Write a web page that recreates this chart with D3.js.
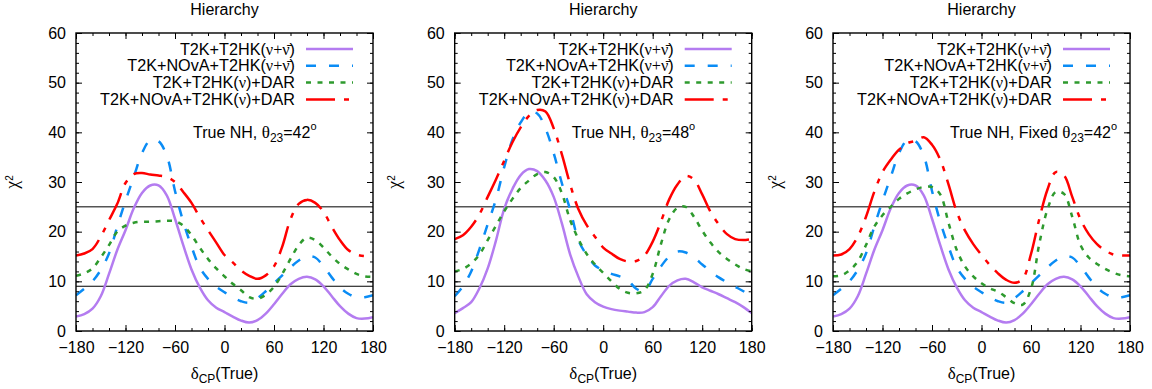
<!DOCTYPE html>
<html>
<head>
<meta charset="utf-8">
<script src="https://cdn.jsdelivr.net/npm/d3@7"></script>
<style>
  body { margin: 0; background: #fff; }
  svg { display: block; font-family: "Liberation Sans", Arial, sans-serif; }
  .greek { font-family: "Liberation Serif", "DejaVu Serif", serif; }
</style>
</head>
<body>
<div id="chart"></div>
<script>
// delta_CP (true) grid, degrees
const deltaCP = [-180, -170, -160, -150, -140, -130, -120, -110, -100, -90, -80, -70, -60, -50, -40, -30, -20, -10,
  0, 10, 20, 30, 40, 50, 60, 70, 80, 90, 100, 110, 120, 130, 140, 150, 160, 170, 180];

// True NH, theta23 = 42
const nh42T2hk = [2.9, 3.4, 4.5, 7.0, 11.5, 16.3, 20.3, 24.7, 27.8, 29.3, 29.3, 27.3, 22.6, 17.3, 12.4, 8.8, 6.2, 4.7,
  3.8, 2.9, 2.1, 1.7, 2.2, 3.5, 5.4, 7.5, 9.4, 10.5, 10.9, 10.4, 9.0, 7.0, 5.0, 3.5, 2.6, 2.5, 2.8];
const nh42Nova = [7.2, 8.5, 10.0, 12.3, 15.6, 21.0, 26.2, 31.0, 35.8, 38.4, 38.2, 35.3, 28.2, 22.0, 17.0, 12.8, 10.5, 8.9,
  7.8, 6.8, 6.0, 5.7, 6.6, 8.0, 9.6, 11.2, 12.8, 14.2, 15.0, 14.8, 13.0, 10.8, 8.8, 7.5, 6.8, 6.8, 7.2];
const nh42Dar = [11.1, 11.6, 12.6, 14.8, 17.3, 20.0, 21.2, 21.8, 22.0, 22.0, 22.1, 22.2, 22.1, 21.2, 19.3, 16.8, 14.5, 12.6,
  11.0, 9.5, 8.2, 6.8, 6.5, 7.3, 8.9, 11.5, 14.5, 17.3, 18.8, 18.3, 16.8, 15.0, 13.5, 12.4, 11.5, 11.0, 10.9];
const nh42NovaDar = [15.2, 15.6, 16.5, 19.0, 22.3, 25.6, 29.8, 31.6, 31.8, 31.5, 31.3, 31.0, 30.0, 28.0, 25.8, 22.9, 20.3, 17.8,
  15.3, 13.8, 12.2, 11.1, 10.5, 11.2, 13.0, 17.0, 22.5, 25.6, 26.4, 25.8, 24.0, 21.0, 18.3, 16.3, 15.4, 15.1, 15.2];

// True NH, theta23 = 48
const nh48T2hk = [3.6, 4.6, 5.8, 8.6, 12.6, 18.2, 24.6, 28.6, 31.4, 32.6, 32.2, 30.3, 27.0, 21.6, 15.4, 10.9, 7.4, 5.8,
  4.9, 4.4, 4.1, 3.9, 3.7, 3.8, 4.8, 7.0, 9.1, 10.2, 10.5, 9.8, 8.8, 8.1, 7.4, 6.6, 5.8, 4.8, 3.6];
const nh48Nova = [7.0, 9.0, 12.0, 16.5, 21.5, 26.5, 33.0, 38.5, 42.0, 44.0, 43.8, 40.8, 35.8, 29.7, 24.4, 18.3, 15.3, 13.2,
  12.2, 11.5, 11.0, 10.2, 8.5, 8.0, 10.5, 13.0, 15.0, 16.0, 15.8, 14.8, 13.4, 12.0, 10.8, 9.8, 8.9, 8.0, 7.0];
const nh48Dar = [12.0, 12.5, 13.6, 15.4, 18.3, 21.2, 24.1, 26.6, 28.8, 30.3, 31.6, 32.0, 31.0, 27.7, 22.3, 18.5, 15.5, 13.4,
  11.7, 10.0, 8.5, 7.7, 7.6, 8.2, 11.5, 17.5, 22.5, 24.8, 25.0, 23.0, 20.2, 17.8, 15.9, 14.5, 13.4, 12.5, 12.0];
const nh48NovaDar = [18.5, 19.3, 21.0, 23.5, 27.0, 30.5, 34.3, 38.0, 41.0, 43.3, 44.5, 44.2, 40.8, 35.5, 29.5, 24.5, 21.3, 19.0,
  16.8, 15.6, 14.5, 14.0, 14.1, 15.2, 18.0, 22.0, 26.5, 29.5, 31.2, 30.5, 27.5, 24.0, 21.5, 19.5, 18.5, 18.3, 18.5];

// True NH, fixed theta23 = 42 (beam-only curves as in the first panel)
const fixed42Dar = [11.0, 11.2, 12.2, 14.0, 17.3, 21.0, 23.3, 25.0, 26.6, 27.7, 28.5, 29.0, 29.0, 27.5, 21.8, 16.3, 13.0, 11.0,
  9.6, 8.6, 7.9, 6.8, 5.6, 5.3, 8.5, 17.5, 24.5, 28.0, 27.6, 23.0, 17.3, 14.8, 13.5, 12.5, 11.7, 11.2, 11.0];
const fixed42NovaDar = [15.2, 15.4, 16.5, 19.0, 23.0, 28.0, 32.0, 34.5, 36.5, 37.8, 38.3, 39.0, 37.5, 34.5, 29.5, 24.0, 20.2, 17.5,
  15.3, 13.3, 11.6, 10.3, 9.7, 10.5, 15.5, 22.5, 28.5, 32.0, 31.3, 27.0, 22.5, 19.5, 17.5, 16.2, 15.4, 15.2, 15.2];

const xMajorTicks = [-180, -120, -60, 0, 60, 120, 180];
const yMajorTicks = [0, 10, 20, 30, 40, 50, 60];
const refLevels = [25, 9];

const seriesStyles = [
  { color: "#b47cf0", dash: null },
  { color: "#0a8cf5", dash: "10,13" },
  { color: "#2e9a2e", dash: "5,6.5" },
  { color: "#ff0000", dash: "29,9,5,9" }
];

// legend labels, pieces flagged as greek are set in a serif face
const legendLabels = [
  [["T2K+T2HK(", 0], ["\u03bd+\u03bd\u0304", 1], [")", 0]],
  [["T2K+NOvA+T2HK(", 0], ["\u03bd+\u03bd\u0304", 1], [")", 0]],
  [["T2K+T2HK(", 0], ["\u03bd", 1], [")+DAR", 0]],
  [["T2K+NOvA+T2HK(", 0], ["\u03bd", 1], [")+DAR", 0]]
];

const panels = [
  { left: 76, yLabelX: 58, note: "True NH, ", theta: "42", series: [nh42T2hk, nh42Nova, nh42Dar, nh42NovaDar] },
  { left: 454.7, yLabelX: 55, note: "True NH, ", theta: "48", series: [nh48T2hk, nh48Nova, nh48Dar, nh48NovaDar] },
  { left: 833, yLabelX: 52, note: "True NH, Fixed ", theta: "42", series: [nh42T2hk, nh42Nova, fixed42Dar, fixed42NovaDar] }
];

const W = 1152, H = 389;
const plotTop = 33, plotBottom = 331, plotW = 297;
const fontSize = 16;

const svg = d3.select("#chart").append("svg")
  .attr("width", W)
  .attr("height", H);

const y = d3.scaleLinear().domain([0, 60]).range([plotBottom, plotTop]);

panels.forEach((p, i) => {
  const x = d3.scaleLinear().domain([-180, 180]).range([p.left, p.left + plotW]);
  const g = svg.append("g");

  g.append("clipPath").attr("id", "clip" + i)
    .append("rect")
    .attr("x", p.left).attr("y", plotTop)
    .attr("width", plotW).attr("height", plotBottom - plotTop);

  // reference lines
  g.selectAll(".ref")
    .data(refLevels)
    .enter()
    .append("line")
    .attr("x1", x(-180)).attr("x2", x(180))
    .attr("y1", d => y(d)).attr("y2", d => y(d))
    .attr("stroke", (d, k) => k === 0 ? "#555" : "#000")
    .attr("stroke-width", (d, k) => k === 0 ? 1.5 : 1.1);

  // curves
  const line = d3.line()
    .x((d, k) => x(deltaCP[k]))
    .y(d => y(d))
    .curve(d3.curveCatmullRom.alpha(0.5));

  g.append("g").attr("clip-path", `url(#clip${i})`)
    .selectAll("path")
    .data(p.series)
    .enter()
    .append("path")
    .attr("d", line)
    .attr("fill", "none")
    .attr("stroke", (d, k) => seriesStyles[k].color)
    .attr("stroke-width", 2.5)
    .attr("stroke-dasharray", (d, k) => seriesStyles[k].dash);

  // axes, gnuplot style: inward ticks on all four sides
  const xMinor = x.ticks(18);
  const yMinor = y.ticks(30);
  const addAxis = (axis, tx, ty) => {
    const a = g.append("g").attr("transform", `translate(${tx},${ty})`).call(axis);
    a.select(".domain").remove();
    a.selectAll("line").attr("stroke", "#000").attr("stroke-width", 1);
    return a;
  };
  const bottom = addAxis(d3.axisBottom(x).tickValues(xMajorTicks).tickSize(-6).tickPadding(11), 0, plotBottom);
  bottom.selectAll("text").attr("font-size", fontSize).attr("fill", "#000").attr("font-family", "Liberation Sans, Arial, sans-serif");
  addAxis(d3.axisBottom(x).tickValues(xMinor).tickSize(-3).tickFormat(""), 0, plotBottom);
  addAxis(d3.axisTop(x).tickValues(xMajorTicks).tickSize(-6).tickFormat(""), 0, plotTop);
  addAxis(d3.axisTop(x).tickValues(xMinor).tickSize(-3).tickFormat(""), 0, plotTop);

  const leftAx = addAxis(d3.axisLeft(y).tickValues(yMajorTicks).tickSize(-6).tickPadding(10), p.left, 0);
  leftAx.selectAll("text").attr("font-size", fontSize).attr("fill", "#000").attr("font-family", "Liberation Sans, Arial, sans-serif");
  addAxis(d3.axisLeft(y).tickValues(yMinor).tickSize(-3).tickFormat(""), p.left, 0);
  addAxis(d3.axisRight(y).tickValues(yMajorTicks).tickSize(-6).tickFormat(""), p.left + plotW, 0);
  addAxis(d3.axisRight(y).tickValues(yMinor).tickSize(-3).tickFormat(""), p.left + plotW, 0);

  // frame
  g.append("rect")
    .attr("x", p.left).attr("y", plotTop)
    .attr("width", plotW).attr("height", plotBottom - plotTop)
    .attr("fill", "none").attr("stroke", "#000").attr("stroke-width", 1.4);

  // title
  g.append("text")
    .attr("x", p.left + plotW / 2).attr("y", 15)
    .attr("text-anchor", "middle")
    .attr("font-size", fontSize)
    .text("Hierarchy");

  // y label
  const yl = g.append("text")
    .attr("transform", `translate(${p.left - p.yLabelX},182) rotate(-90)`)
    .attr("text-anchor", "middle")
    .attr("font-size", fontSize);
  yl.append("tspan").attr("class", "greek").attr("font-size", 18).text("\u03c7");
  yl.append("tspan").attr("font-size", 10).attr("dy", -5).text("2");

  // x label
  const xl = g.append("text")
    .attr("x", p.left + plotW / 2).attr("y", 379)
    .attr("text-anchor", "middle")
    .attr("font-size", fontSize);
  xl.append("tspan").attr("class", "greek").attr("font-size", 17).text("\u03b4");
  xl.append("tspan").attr("font-size", 12).attr("dy", 4).text("CP");
  xl.append("tspan").attr("dy", -4).text("(True)");

  // legend
  legendLabels.forEach((parts, k) => {
    const cy = 49 + k * 16.8;
    const t = g.append("text")
      .attr("x", p.left + 219).attr("y", cy + 5.5)
      .attr("text-anchor", "end")
      .attr("font-size", 16.2);
    parts.forEach(([s, greek]) => {
      const ts = t.append("tspan").text(s);
      if (greek) ts.attr("class", "greek");
    });
    g.append("line")
      .attr("x1", p.left + 230).attr("x2", p.left + 277)
      .attr("y1", cy).attr("y2", cy)
      .attr("stroke", seriesStyles[k].color)
      .attr("stroke-width", 2.5)
      .attr("stroke-dasharray", seriesStyles[k].dash);
  });

  // annotation
  const note = g.append("text")
    .attr("x", p.left + 117).attr("y", 138)
    .attr("font-size", fontSize);
  note.append("tspan").text(p.note);
  note.append("tspan").attr("class", "greek").attr("font-size", 17).text("\u03b8");
  note.append("tspan").attr("font-size", 12).attr("dy", 4).text("23");
  note.append("tspan").attr("dy", -4).text("=" + p.theta);
  note.append("tspan").attr("font-size", 11).attr("dy", -8).text("o");
});
</script>
</body>
</html>
